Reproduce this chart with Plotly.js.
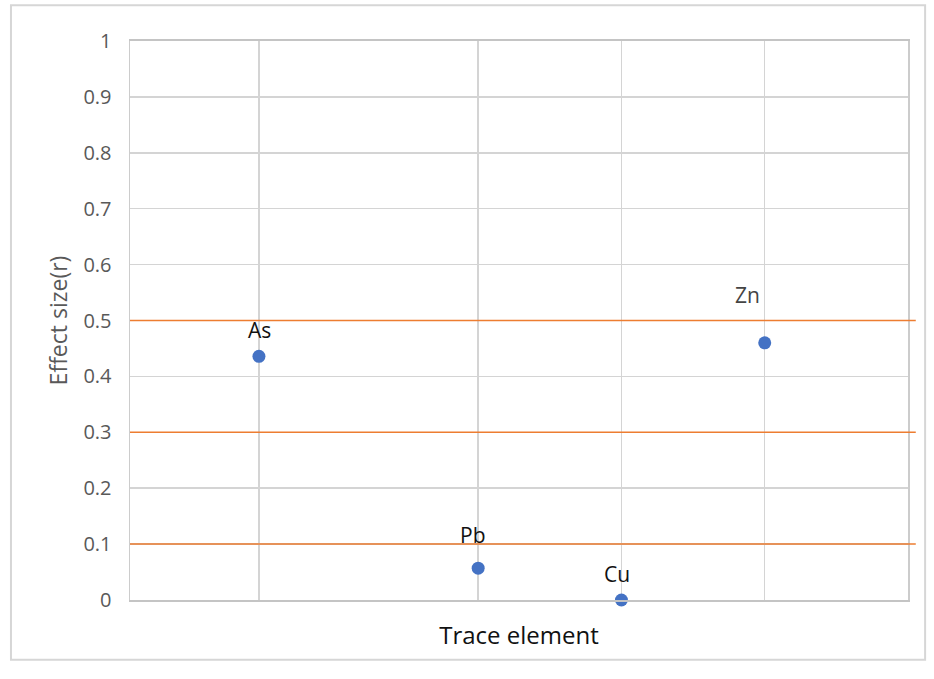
<!DOCTYPE html>
<html><head><meta charset="utf-8">
<script src="https://cdn.plot.ly/plotly-3.0.1.min.js"></script>
<style>html,body{margin:0;padding:0;background:#fff}#c{width:934px;height:679px}</style>
</head><body><div id="c"></div>
<script>
const elements = ["As", "Pb", "Cu", "Zn"];
const xPos = [0.97, 2.5, 3.5, 4.5];
const effectSize = [0.436, 0.057, 0.0, 0.46];
const thresholds = [0.1, 0.3, 0.5];
const yTicks = [0, 0.1, 0.2, 0.3, 0.4, 0.5, 0.6, 0.7, 0.8, 0.9, 1];
const yTickText = ["0", "0.1", "0.2", "0.3", "0.4", "0.5", "0.6", "0.7", "0.8", "0.9", "1"];
const labelOffsetX = [1, -6, -4, -17];
const labelOffsetY = [26, 33, 26, 48];
const labelColor = ["#111", "#111", "#111", "#444"];
const FONT = "Open Sans, Liberation Sans, sans-serif";

const trace = {
  x: xPos, y: effectSize, mode: "markers", type: "scatter",
  marker: {color: "#4472C4", size: 13},
  hoverinfo: "skip", showlegend: false, cliponaxis: false
};

const shapes = thresholds.map(t => ({
  type: "line", xref: "paper", yref: "y", x0: 0, x1: 1.01, y0: t, y1: t,
  line: {color: "#ED7D31", width: 1.5}
}));
shapes.push({type: "rect", xref: "paper", yref: "paper", x0: -0.153, x1: 1.022, y0: -0.107, y1: 1.064,
  line: {color: "#d6d6d6", width: 2}, layer: "below"});

const annotations = elements.map((e, i) => ({
  x: xPos[i], y: effectSize[i], xref: "x", yref: "y", text: e, showarrow: false,
  xshift: labelOffsetX[i], yshift: labelOffsetY[i],
  font: {family: FONT, size: 21, color: labelColor[i]}
}));

const layout = {
  width: 934, height: 679,
  margin: {l: 130, r: 26, t: 41, b: 79},
  paper_bgcolor: "#fff", plot_bgcolor: "#fff",
  xaxis: {
    range: [0.07, 5.5], tickvals: xPos, showticklabels: false,
    showgrid: true, gridcolor: "#d4d4d4", gridwidth: 1.5,
    zeroline: false, showline: true, linecolor: "#c4c4c4", linewidth: 2, mirror: true, ticks: "",
    title: {text: "Trace element", standoff: 26, font: {family: FONT, size: 24, color: "#111"}}
  },
  yaxis: {
    range: [0, 1], tickvals: yTicks, ticktext: yTickText,
    showgrid: true, gridcolor: "#d4d4d4", gridwidth: 1.5,
    zeroline: false, showline: true, linecolor: "#cccccc", linewidth: 1.5, mirror: true, ticks: "",
    ticklabelstandoff: 13,
    tickfont: {family: FONT, size: 20, color: "#595959"},
    title: {text: "Effect size(r)", standoff: 9, font: {family: FONT, size: 23, color: "#595959"}}
  },
  shapes: shapes,
  annotations: annotations
};
Plotly.newPlot("c", [trace], layout, {staticPlot: true, displayModeBar: false});
</script></body></html>
